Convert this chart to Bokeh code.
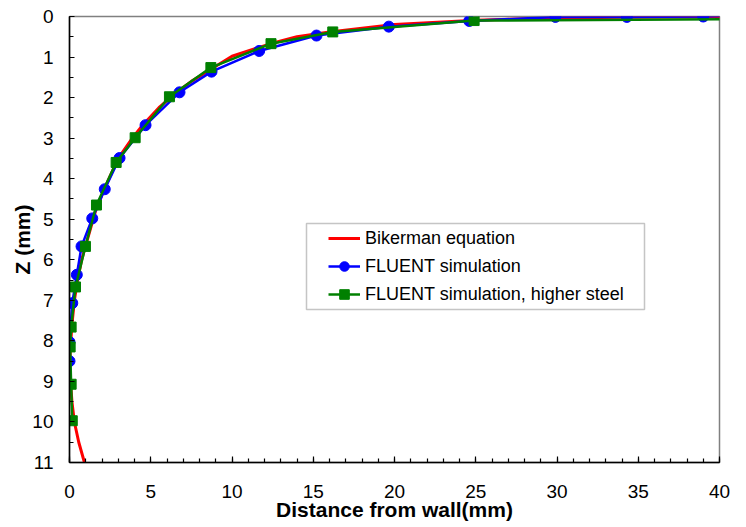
from bokeh.plotting import figure
from bokeh.models import Range1d, SingleIntervalTicker, Legend, LegendItem, BoxAnnotation
from bokeh.embed import file_html
from bokeh.resources import INLINE

# Bikerman equation (smooth curve)
red_x = [40.4, 38.0, 34.0, 30.0, 25.0, 20.0, 16.0, 14.0, 12.3, 10.0, 8.7, 7.5, 6.5, 5.5, 4.5,
         3.9, 3.0, 2.2, 1.6, 1.1, 0.75, 0.5, 0.3, 0.15, 0.05, 0.02, 0.06, 0.15, 0.3, 0.57, 0.92, 1.1]
red_z = [0.0, 0.01, 0.02, 0.035, 0.09, 0.2, 0.38, 0.5, 0.68, 0.98, 1.3, 1.6, 1.9, 2.25, 2.68,
         2.98, 3.5, 4.2, 4.8, 5.5, 6.0, 6.5, 7.0, 7.6, 8.2, 8.6, 9.0, 9.5, 10.0, 10.5, 11.0, 11.2]

# FLUENT simulation
blue_x = [39.0, 34.3, 29.9, 24.6, 19.65, 15.2, 11.67, 8.74, 6.77, 4.68, 3.08, 2.17, 1.40,
          0.74, 0.45, 0.17, 0.0, 0.0]
blue_z = [0.0, 0.01, 0.01, 0.11, 0.25, 0.47, 0.85, 1.36, 1.87, 2.68, 3.49, 4.26, 4.98,
          5.67, 6.37, 7.07, 8.03, 8.5]
blue_tail_x = [40.4]
blue_tail_z = [-0.02]

# FLUENT simulation, higher steel
green_x = [24.9, 16.2, 12.4, 8.70, 6.15, 4.04, 2.87, 1.66, 0.98, 0.37, 0.10, 0.04, 0.10, 0.17]
green_z = [0.10, 0.38, 0.67, 1.26, 1.98, 2.99, 3.60, 4.65, 5.67, 6.67, 7.66, 8.15, 9.07, 9.97]
green_tail_x = [40.4]
green_tail_z = [0.07]

x_title = "Distance from wall(mm)"
y_title = "Z (mm)"
labels = ["Bikerman equation", "FLUENT simulation", "FLUENT simulation, higher steel"]

p = figure(width=746, height=527, output_backend="svg", toolbar_location=None,
           x_range=Range1d(0, 40), y_range=Range1d(11, 0),
           min_border_left=69, min_border_right=27, min_border_top=16, min_border_bottom=65)
p.background_fill_color = "white"
p.border_fill_color = "white"
p.xgrid.visible = False
p.ygrid.visible = False
p.outline_line_color = "#808080"
p.outline_line_width = 1.5

p.xaxis.ticker = SingleIntervalTicker(interval=5, num_minor_ticks=5)
p.yaxis.ticker = SingleIntervalTicker(interval=1, num_minor_ticks=2)

for ax in (p.xaxis, p.yaxis):
    ax.axis_line_color = "black"
    ax.axis_line_width = 1.5
    ax.major_tick_line_color = "black"
    ax.minor_tick_line_color = "black"
    ax.major_tick_line_width = 1.2
    ax.minor_tick_line_width = 1.2
    ax.major_tick_out = 0
    ax.minor_tick_out = 0
    ax.major_label_text_font = "Liberation Sans"
    ax.major_label_text_font_size = "19px"
    ax.major_label_text_color = "black"
    ax.axis_label_text_font = "Liberation Sans"
    ax.axis_label_text_font_size = "21px"
    ax.axis_label_text_font_style = "bold"
    ax.axis_label_text_color = "black"

p.xaxis.major_tick_in = 6
p.xaxis.minor_tick_in = 4
p.yaxis.major_tick_in = 5
p.yaxis.minor_tick_in = 4
p.xaxis.major_label_standoff = 22
p.yaxis.major_label_standoff = 16
p.xaxis.axis_label_standoff = -3
p.yaxis.axis_label_standoff = -5
p.xaxis.axis_label = x_title
p.yaxis.axis_label = y_title

r_red = p.line(red_x, red_z, line_color="#FF0000", line_width=3)
r_blue_l = p.line(blue_tail_x + blue_x, blue_tail_z + blue_z, line_color="#0000FF", line_width=2.5)
r_blue_m = p.scatter(blue_x, blue_z, marker="circle", size=11, fill_color="#0000FF", line_color="#0000FF")
r_green_l = p.line(green_tail_x + green_x, green_tail_z + green_z, line_color="#008000", line_width=2.5)
r_green_m = p.scatter(green_x, green_z, marker="square", size=10, fill_color="#008000", line_color="#008000")

box = BoxAnnotation(left=237, right=575, bottom=153, top=239,
                    left_units="screen", right_units="screen", top_units="screen", bottom_units="screen",
                    fill_color="white", fill_alpha=1.0, line_color="#404040", line_width=1.5)
p.add_layout(box)

legend = Legend(items=[LegendItem(label=labels[0], renderers=[r_red]),
                       LegendItem(label=labels[1], renderers=[r_blue_l, r_blue_m]),
                       LegendItem(label=labels[2], renderers=[r_green_l, r_green_m])],
                location=(259, 156), padding=0, spacing=4, margin=0,
                glyph_width=32, glyph_height=24, label_height=24, label_standoff=5,
                border_line_alpha=0, background_fill_alpha=0,
                label_text_font="Liberation Sans", label_text_font_size="18px",
                label_text_color="black")
p.add_layout(legend)

open("out.html", "w").write(file_html(p, INLINE))
